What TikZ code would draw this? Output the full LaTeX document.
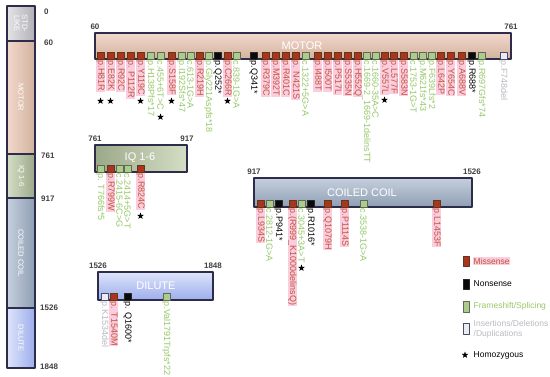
\documentclass[tikz,border=0pt]{standalone}
\usepackage{fontspec}
\setmainfont{Liberation Sans}
\usepackage{xcolor}
\usepackage{tikz}
\usetikzlibrary{shapes.geometric}
% variant classes: fill / line / label text / label highlight
\definecolor{misfill}{RGB}{172,52,30}
\definecolor{misline}{RGB}{95,55,25}
\definecolor{mistext}{RGB}{196,82,60}
\definecolor{mishl}{RGB}{250,206,222}
\definecolor{nonfill}{RGB}{10,10,10}
\definecolor{nonline}{RGB}{40,40,40}
\definecolor{nontext}{RGB}{0,0,0}
\definecolor{nonhl}{RGB}{255,255,255}
\definecolor{fsfill}{RGB}{172,204,140}
\definecolor{fsline}{RGB}{95,105,85}
\definecolor{fstext}{RGB}{150,200,105}
\definecolor{fshl}{RGB}{255,255,255}
\definecolor{indfill}{RGB}{236,236,240}
\definecolor{indline}{RGB}{70,75,110}
\definecolor{indtext}{RGB}{185,185,192}
\definecolor{indhl}{RGB}{255,255,255}
% domain colours
\definecolor{barline}{RGB}{45,45,75}
\definecolor{stdA}{RGB}{228,228,230}\definecolor{stdB}{RGB}{176,176,182}
\definecolor{motA}{RGB}{242,216,204}\definecolor{motB}{RGB}{210,178,158}
\definecolor{iqA}{RGB}{212,222,196}\definecolor{iqB}{RGB}{156,168,138}
\definecolor{ccA}{RGB}{198,208,222}\definecolor{ccB}{RGB}{142,158,178}
\definecolor{dilA}{RGB}{222,228,250}\definecolor{dilB}{RGB}{156,174,236}
\tikzset{
  vbox/.style={fill=#1fill, draw=#1line, line width=0.6pt},
  vlab/.style={rotate=-90, anchor=west, inner sep=0.5pt, fill=#1hl, text=#1text,
    font=\fontsize{9}{9.5}\selectfont},
  bar/.style={draw=barline, line width=1.1pt},
  bartitle/.style={text=white, font=\fontsize{11}{12}\selectfont},
  coltitle/.style={text=white, rotate=-90, align=center, font=\fontsize{7.5}{8}\selectfont},
  num/.style={text=black!75, font=\fontsize{8}{9}\selectfont\bfseries, inner sep=1pt},
  homo/.style={star, star points=5, star point ratio=2.4, fill=black, inner sep=0pt, minimum size=7pt},
  key/.style={anchor=west, inner sep=0.5pt, align=left, font=\fontsize{8.5}{10}\selectfont},
}

\begin{document}
\begin{tikzpicture}[x=1pt,y=-1pt,line join=round]
  \useasboundingbox (0,0) rectangle (550,376);
  % protein column on the left
  \shadedraw[bar, left color=stdA, right color=stdB] (7,6) rectangle (35,41);
  \shadedraw[bar, left color=motA, right color=motB] (7,41) rectangle (35,154);
  \shadedraw[bar, left color=iqA, right color=iqB] (7,154) rectangle (35,198);
  \shadedraw[bar, left color=ccA, right color=ccB] (7,198) rectangle (35,308);
  \shadedraw[bar, left color=dilA, right color=dilB] (7,308) rectangle (35,368);
  \foreach \n/\y/\lab in {std/23.5/{STD-\\LIKE}, mot/97.5/{MOTOR}, iq/176/{IQ 1-6},
        cc/253/{COILED COIL}, dil/338/{DILUTE}}{\node[coltitle] (col-\n) at (21,\y) {\lab};}
  \foreach \n/\x/\y/\lab in {a/43/12/0, b/43/43/60, c/40/156/761, d/40/199/917,
        e/39/308/1526, f/39/367/1848}{\node[num, anchor=west] (pos-\n) at (\x,\y) {\lab};}

  % motor domain
  \shadedraw[bar, top color=motA, bottom color=motB] (95,33) rectangle (511,59);
  \node[bartitle] (motor) at (302,46) {MOTOR};
  \node[num, anchor=south] (motor-a) at (95,31) {60};
  \node[num, anchor=south] (motor-b) at (511,31) {761};
  \foreach \vx/\vt/\vlab [count=\i] in {97/mis/{p.H81R}, 107/mis/{p.E82K}, 117/mis/{p.R92C},
        127/mis/{p. P112R}, 137/mis/{p.Y119C}, 147/fs/{p.H138Pfs*17}, 157/fs/{c.455+6T>C},
        168/mis/{p.S158F}, 178/fs/{p.I192Sfs*47}, 187/fs/{c.613-1G>A}, 196/mis/{p.R219H},
        205/fs/{p.Gly221Aspfs*18}, 214/non/{p.Q252*}, 224/mis/{p.C266R}, 233/fs/{c.839-1G>A},
        250/non/{p.Q341*}, 262/mis/{p.R379C}, 272/mis/{p.M392T}, 282/mis/{p.R401C},
        292/mis/{p. N421S}, 302/fs/{c.1322+5G>A}, 314/mis/{p.I488T}, 324/mis/{p.I500T},
        334/mis/{p.P517L}, 344/mis/{p.S535N}, 354/mis/{p.H552Q}, 363/fs/{c.1669-2\_1669-1delinsTT},
        372/fs/{c.1660-35A>C}, 381/mis/{p.V557L}, 390/mis/{p.L577F}, 400/mis/{p.S583N},
        410/fs/{c.1753-1G>T}, 419/fs/{p.M621fs*43}, 428/fs/{p.F639Lfs*2}, 437/mis/{p.L642P},
        447/mis/{p.Y654C}, 458/mis/{p.A688V}, 468/non/{p.R688*}, 478/fs/{p.R697Gfs*74},
        500/ind/{p.F748del}}{
    \draw[vbox=\vt] (\vx,52) rectangle ++(7,7);
    \node[vlab=\vt] (mv\i) at (\vx+3.5,60) {\vlab};
  }

  % IQ motifs
  \shadedraw[bar, left color=iqB, right color=iqA] (95,145) rectangle (187,172);
  \node[bartitle] (iq) at (140,158) {IQ 1-6};
  \node[num, anchor=south] (iq-a) at (95,143) {761};
  \node[num, anchor=south] (iq-b) at (187,143) {917};
  \foreach \vx/\vt/\vlab [count=\i] in {97/fs/{p. T766fs*5}, 107/mis/{p.R799W},
        116/fs/{c.2415-6C>G}, 124/fs/{c.2414+5G>T}, 137/mis/{p.R824C}}{
    \draw[vbox=\vt] (\vx,165) rectangle ++(7,7);
    \node[vlab=\vt] (iv\i) at (\vx+3.5,173) {\vlab};
  }

  % coiled coil
  \shadedraw[bar, top color=ccA, bottom color=ccB] (254,178) rectangle (472,207);
  \node[bartitle] (cc) at (362,193) {COILED COIL};
  \node[num, anchor=south] (cc-a) at (254,176) {917};
  \node[num, anchor=south] (cc-b) at (472,176) {1526};
  \foreach \vx/\vt/\vlab [count=\i] in {257/mis/{p.L934S}, 266/fs/{c.2812-1G>A}, 275/non/{p.P941*},
        289/mis/{p.(R999\_K1000delinsQ)}, 298/fs/{c.3045+3A>T}, 307/non/{p.R1016*},
        324/mis/{p.Q1079H}, 341/mis/{p.P1114S}, 360/fs/{c.3538-1G>A}, 433/mis/{p.L1453F}}{
    \draw[vbox=\vt] (\vx,200) rectangle ++(7,7);
    \node[vlab=\vt] (cv\i) at (\vx+3.5,208) {\vlab};
  }

  % dilute domain
  \shadedraw[bar, top color=dilA, bottom color=dilB] (98,272) rectangle (213,300);
  \node[bartitle] (dil) at (156,286) {DILUTE};
  \node[num, anchor=south] (dil-a) at (98,270) {1526};
  \node[num, anchor=south] (dil-b) at (213,270) {1848};
  \foreach \vx/\vt/\vlab [count=\i] in {101/ind/{p.K1534del}, 110/mis/{p. T1540M},
        124/non/{p. Q1600*}, 163/fs/{p.Val1791Trpfs*22}}{
    \draw[vbox=\vt] (\vx,293) rectangle ++(7,7);
    \node[vlab=\vt] (dv\i) at (\vx+3.5,301) {\vlab};
  }

  % homozygous variants
  \foreach \n/\sx/\sy in {h1/100.5/101, h2/110.5/101, h3/140.5/101, h4/160.5/117, h5/171.5/101,
        h6/227.5/101, h7/384.5/100, h8/140.5/216, h9/301.5/268}{\node[homo] (\n) at (\sx,\sy) {};}

  % legend
  \draw[vbox=mis] (463,256) rectangle (469,266);
  \node[key, text=mistext, fill=mishl] (key-mis) at (473,261) {Missense};
  \draw[vbox=non] (463,279) rectangle (469,289);
  \node[key] (key-non) at (473,284) {Nonsense};
  \draw[vbox=fs] (463,301) rectangle (469,312);
  \node[key, text=fstext] (key-fs) at (473,306.5) {Frameshift/Splicing};
  \draw[vbox=ind] (463,323) rectangle (469,334);
  \node[key, text=indtext] (key-ind) at (473,329.5) {Insertions/Deletions\\/Duplications};
  \node[homo] (key-hs) at (465,355) {};
  \node[key] (key-hom) at (473,355) {Homozygous};
\end{tikzpicture}
\end{document}
